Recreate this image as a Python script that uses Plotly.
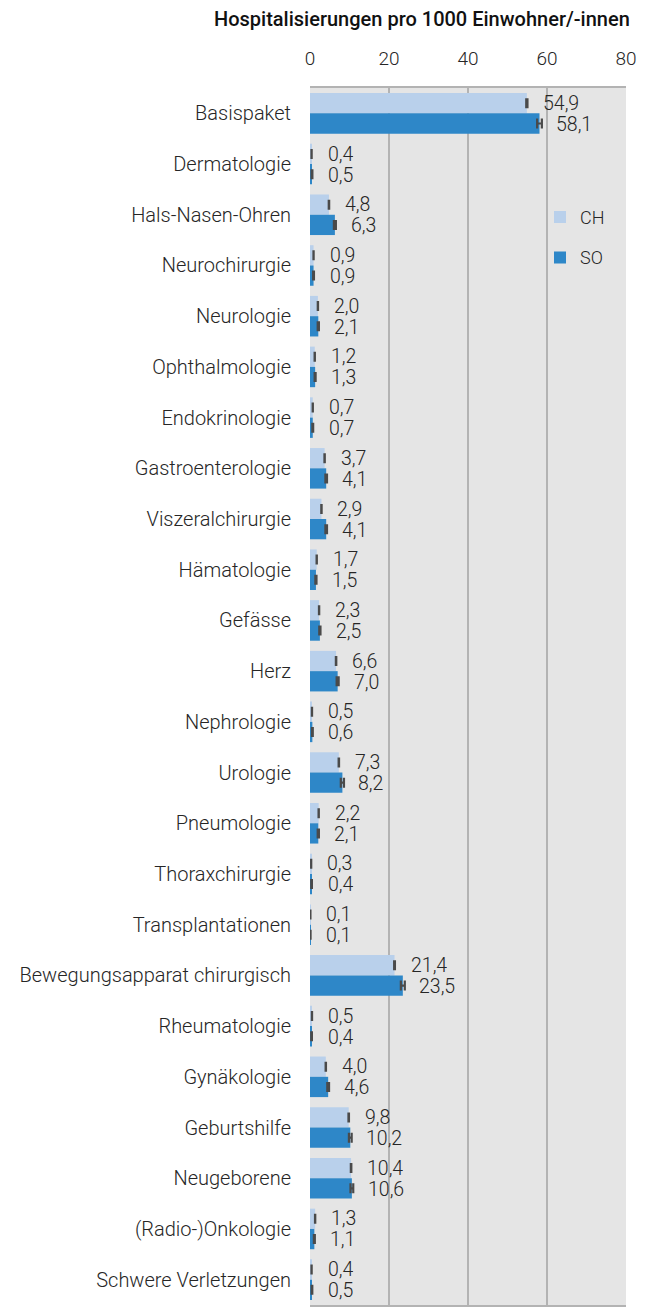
import plotly.graph_objects as go

categories = ["Basispaket", "Dermatologie", "Hals-Nasen-Ohren", "Neurochirurgie", "Neurologie",
              "Ophthalmologie", "Endokrinologie", "Gastroenterologie", "Viszeralchirurgie",
              "Hämatologie", "Gefässe", "Herz", "Nephrologie", "Urologie", "Pneumologie",
              "Thoraxchirurgie", "Transplantationen", "Bewegungsapparat chirurgisch",
              "Rheumatologie", "Gynäkologie", "Geburtshilfe", "Neugeborene",
              "(Radio-)Onkologie", "Schwere Verletzungen"]
ch_values = [54.9, 0.4, 4.8, 0.9, 2.0, 1.2, 0.7, 3.7, 2.9, 1.7, 2.3, 6.6, 0.5, 7.3, 2.2,
             0.3, 0.1, 21.4, 0.5, 4.0, 9.8, 10.4, 1.3, 0.4]
so_values = [58.1, 0.5, 6.3, 0.9, 2.1, 1.3, 0.7, 4.1, 4.1, 1.5, 2.5, 7.0, 0.6, 8.2, 2.1,
             0.4, 0.1, 23.5, 0.4, 4.6, 10.2, 10.6, 1.1, 0.5]
ch_err = [0.15, 0.02, 0.05, 0.02, 0.03, 0.03, 0.02, 0.04, 0.04, 0.03, 0.03, 0.05, 0.02, 0.05,
          0.03, 0.01, 0.01, 0.1, 0.02, 0.04, 0.06, 0.06, 0.03, 0.02]
so_err = [0.6, 0.1, 0.25, 0.1, 0.15, 0.12, 0.1, 0.2, 0.2, 0.14, 0.15, 0.25, 0.1, 0.4, 0.15,
          0.08, 0.04, 0.5, 0.08, 0.22, 0.35, 0.35, 0.12, 0.08]
x_ticks = [0, 20, 40, 60, 80]

FONT = "Roboto"
TXT = "#262626"
W, H = 653, 1307
OFF = 8  # page body margin
plot_left, plot_right, plot_top, plot_bottom = 310 - OFF, 626 - OFF, 88 - OFF, 1307 - OFF

fig = go.Figure()
fig.add_trace(go.Bar(
    name="CH", y=categories, x=ch_values, orientation="h", legendgroup="ch",
    marker=dict(color="#b9d0eb", line=dict(width=0)),
    error_x=dict(type="data", array=ch_err, visible=True, color="#4a4a4a", thickness=2.2, width=5),
))
fig.add_trace(go.Bar(
    name="SO", y=categories, x=so_values, orientation="h", legendgroup="so",
    marker=dict(color="#2e87c8", line=dict(width=0)),
    error_x=dict(type="data", array=so_err, visible=True, color="#4a4a4a", thickness=2.2, width=5),
))

lab_font = dict(family=FONT, size=19.5, color=TXT, weight=300)
annotations = []
for cat, v in zip(categories, ch_values):
    annotations.append(dict(x=v, y=cat, xref="x", yref="y", text=f"{v:.1f}".replace(".", ","),
                            showarrow=False, xanchor="left", yanchor="middle", xshift=15, yshift=10.5,
                            height=20, borderpad=0, font=lab_font))
for cat, v in zip(categories, so_values):
    annotations.append(dict(x=v, y=cat, xref="x", yref="y", text=f"{v:.1f}".replace(".", ","),
                            showarrow=False, xanchor="left", yanchor="middle", xshift=15, yshift=-10.5,
                            height=20, borderpad=0, font=lab_font))
annotations.append(dict(
    x=(631 - OFF - plot_left) / (plot_right - plot_left),
    y=1 + (plot_top - (19 - OFF)) / (plot_bottom - plot_top),
    xref="paper", yref="paper", text="Hospitalisierungen pro 1000 Einwohner/-innen",
    showarrow=False, xanchor="right", yanchor="middle", borderpad=0, height=22,
    font=dict(family=FONT, size=20, color="#111111", weight=500)))

fig.update_layout(
    width=W, height=H,
    margin=dict(l=plot_left, r=W - plot_right, t=plot_top, b=H - plot_bottom, pad=0),
    paper_bgcolor="white", plot_bgcolor="#e5e5e5",
    barmode="group", bargap=0.2, bargroupgap=0,
    font=dict(family=FONT, size=19, color=TXT, weight=300),
    showlegend=True,
    legend=dict(x=(540 - 310) / 316, y=1 - (199 - 88) / 1219, xanchor="left", yanchor="top",
                bgcolor="rgba(0,0,0,0)",
                font=dict(family=FONT, size=18, color=TXT, weight=300), traceorder="grouped",
                tracegroupgap=14, itemwidth=30),
    annotations=annotations,
)
fig.update_xaxes(side="top", range=[0, 80], tickvals=x_ticks, ticktext=[str(t) for t in x_ticks],
                 showgrid=True, gridcolor="#b3b3b3", gridwidth=1.5, zeroline=False,
                 showline=True, mirror=True, linecolor="#b3b3b3", linewidth=1.5,
                 ticks="", ticklabelstandoff=14,
                 tickfont=dict(family=FONT, size=19, color=TXT, weight=300))
fig.update_yaxes(autorange="reversed", showgrid=False, showline=False, ticks="",
                 ticklabelstandoff=18,
                 tickfont=dict(family=FONT, size=20, color=TXT, weight=300))

fig.write_html("out.html")
